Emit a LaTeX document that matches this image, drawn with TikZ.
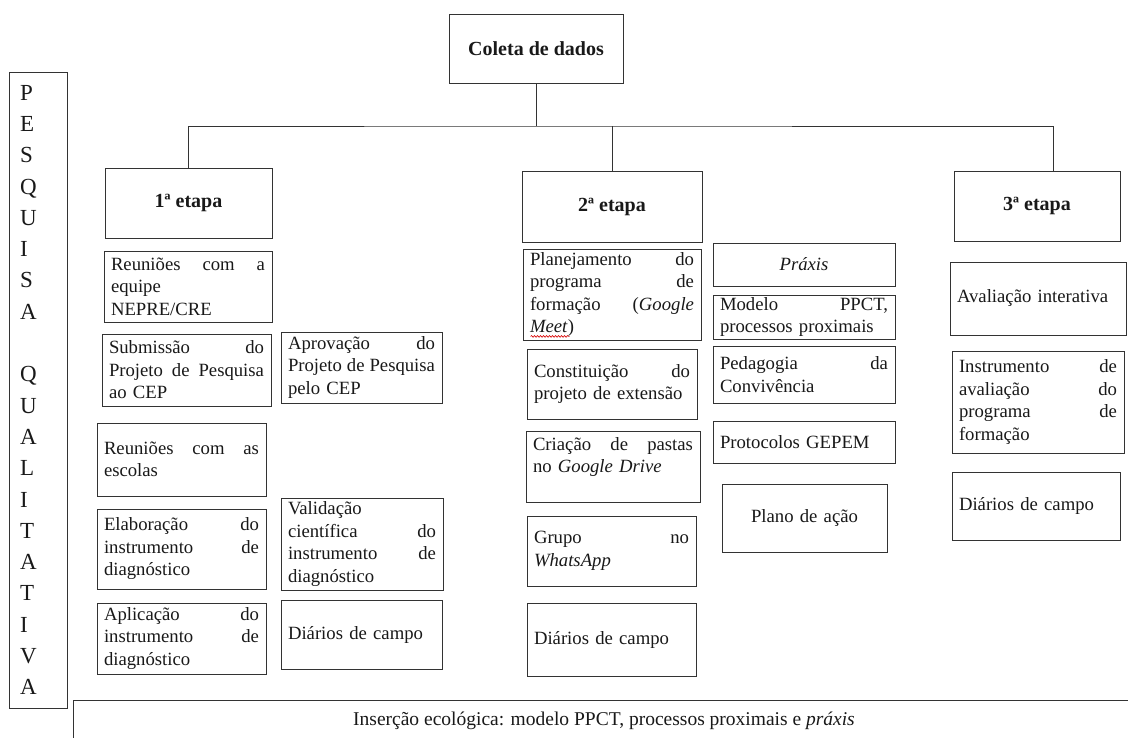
\documentclass[tikz,border=0pt]{standalone}
\usepackage{fontspec}
\setmainfont{Liberation Serif}
\usetikzlibrary{decorations.pathmorphing}

% text sizes
\newcommand\boxfont{\fontsize{18.7}{22.5}\selectfont}
\newcommand\headfont{\fontsize{20}{24}\selectfont\bfseries}
\newcommand\sidefont{\fontsize{23}{31.3}\selectfont}
\newcommand\basefont{\fontsize{19.5}{23}\selectfont}

% a framed text box given by its corners: [align]{name}{x1}{y1}{x2}{y2}{text}
\newcommand\bx[6][left]{%
  \pgfmathsetmacro\bxw{#5-#3}%
  \pgfmathsetmacro\bxh{#6-#4}%
  \pgfmathsetmacro\bxcx{(#3+#5)/2}%
  \pgfmathsetmacro\bxcy{(#4+#6)/2}%
  \pgfmathsetmacro\bxtw{#5-#3-14}%
  \node[box,align=#1,minimum width=\bxw pt,minimum height=\bxh pt,
        text width=\bxtw pt] (#2) at (\bxcx,\bxcy) {\bxtext};}
\newcommand\bxtext{}

\tikzset{
  frame/.style={draw=black!80,line width=0.8pt},
  box/.style={frame,inner xsep=7pt,inner ysep=0pt,font=\boxfont,text=black!90},
  head/.style={frame,inner sep=0pt,font=\headfont,text=black!90},
  conn/.style={draw=black!80,line width=0.8pt},
}

\begin{document}
\begin{tikzpicture}[x=1pt,y=-1pt]
\useasboundingbox (0,0) rectangle (1128,738);
\clip (0,0) rectangle (1128,738);
\fill[white] (0,0) rectangle (1128,738);

% side label
\node[frame,minimum width=58pt,minimum height=636pt,inner xsep=11pt,
      text width=36pt,align=left,font=\sidefont,text=black!90] (side) at (38,390)
  {P\\E\\S\\Q\\U\\I\\S\\A\\\mbox{}\\Q\\U\\A\\L\\I\\T\\A\\T\\I\\V\\A};

% headings
\node[head,minimum width=174pt,minimum height=69pt] (coleta) at (536,48.5) {Coleta de dados};
\node[head,minimum width=167pt,minimum height=70pt] (e1) at (188.5,203) {1ª etapa};
\node[head,minimum width=180pt,minimum height=71pt] (e2) at (612,206.5) {2ª etapa};
\node[head,minimum width=166pt,minimum height=70pt] (e3) at (1037,206) {3ª etapa};

% tree connectors
\coordinate (hub) at (536,126);
\coordinate (e3top) at ([xshift=16pt]e3.north);
\draw[conn] (coleta.south) -- (hub);
\draw[conn] (e1.north) |- (hub) -| (e3top);
\draw[conn] (e2.north) -- (e2.north |- hub);

% first stage
\renewcommand\bxtext{Reuniões\hfill com\hfill a\\equipe\\NEPRE/CRE}
\bx{reqp}{104}{251}{272}{322}
\renewcommand\bxtext{Submissão\hfill do\\Projeto\hfill de\hfill Pesquisa\\ao CEP}
\bx{subm}{102}{334}{271}{406}
\renewcommand\bxtext{Aprovação\hfill do\\Projeto\hfill de\hfill Pesquisa\\pelo CEP}
\bx{aprov}{281}{332}{442}{403}
\renewcommand\bxtext{Reuniões\hfill com\hfill as\\escolas}
\bx{resc}{97}{423}{266}{496}
\renewcommand\bxtext{Elaboração\hfill do\\instrumento\hfill de\\diagnóstico}
\bx{elab}{97}{509}{266}{589}
\renewcommand\bxtext{Validação\\científica\hfill do\\instrumento\hfill de\\diagnóstico}
\bx{valid}{281}{498}{443}{590}
\renewcommand\bxtext{Aplicação\hfill do\\instrumento\hfill de\\diagnóstico}
\bx{aplic}{97}{603}{266}{674}
\renewcommand\bxtext{Diários de campo}
\bx{diarA}{281}{600}{442}{669}

% second stage
\renewcommand\bxtext{Planejamento\hfill do\\programa\hfill de\\formação\hfill(\textit{Google}\\\textit{Meet})}
\bx{plan}{523}{249}{701}{340}
\renewcommand\bxtext{Constituição\hfill do\\projeto de extensão}
\bx{const}{527}{349}{697}{419}
\renewcommand\bxtext{Criação\hfill de\hfill pastas\\no \textit{Google Drive}\\\mbox{}}
\bx{criac}{526}{431}{700}{502}
\renewcommand\bxtext{Grupo\hfill no\\\textit{WhatsApp}}
\bx{grupo}{527}{516}{696}{586}
\renewcommand\bxtext{Diários de campo}
\bx{diarB}{527}{603}{696}{676}

\renewcommand\bxtext{\textit{Práxis}}
\bx[center]{praxis}{713}{243}{895}{286}
\renewcommand\bxtext{Modelo\hfill PPCT,\\processos proximais}
\bx{modelo}{713}{295}{895}{339}
\renewcommand\bxtext{Pedagogia\hfill da\\Convivência}
\bx{pedag}{713}{346}{895}{403}
\renewcommand\bxtext{Protocolos GEPEM}
\bx{proto}{713}{421}{895}{463}
\renewcommand\bxtext{Plano de ação}
\bx[center]{plano}{722}{484}{887}{552}

% spell-check mark under the last word of the planning box
\draw[red!85!black,line width=0.6pt,decorate,
      decoration={snake,amplitude=0.9pt,segment length=3pt}]
  ([xshift=8pt,yshift=4pt]plan.south west) -- ++(39,0);

% third stage
\renewcommand\bxtext{Avaliação interativa}
\bx{aval}{950}{262}{1126}{335}
\renewcommand\bxtext{Instrumento\hfill de\\avaliação\hfill do\\programa\hfill de\\formação}
\bx{instr}{952}{351}{1124}{453}
\renewcommand\bxtext{Diários de campo}
\bx{diarC}{952}{472}{1120}{540}

% base band
\node[frame,minimum width=1062pt,minimum height=42pt,inner sep=0pt,
      font=\basefont,text=black!90] (base) at (604,721)
  {Inserção ecológica: modelo PPCT, processos proximais e \textit{práxis}};
\end{tikzpicture}
\end{document}
